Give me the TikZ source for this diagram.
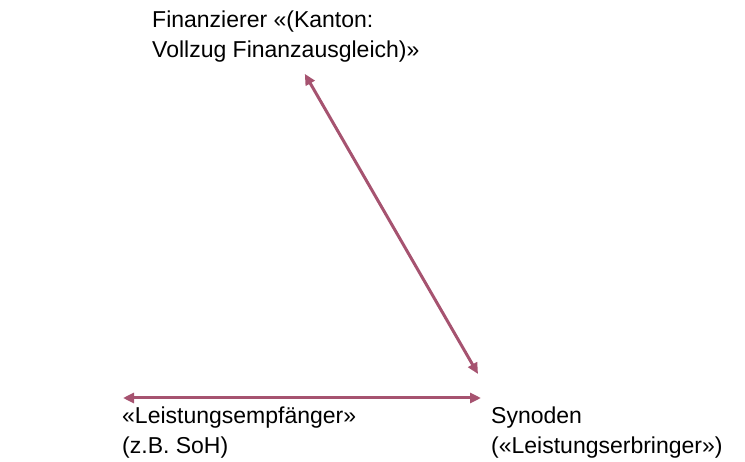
\documentclass[tikz,border=0pt]{standalone}
\usepackage{fontspec}
\setmainfont{Liberation Sans}
\usepackage{tikz}
\usetikzlibrary{arrows.meta}

\definecolor{rolle}{RGB}{166,83,112}

\begin{document}
\begin{tikzpicture}[x=1pt,y=-1pt,
  txt/.style={anchor=north west,align=left,inner sep=0pt,font=\fontsize{23}{30}\selectfont},
  pfeil/.style={rolle,line width=3pt,{Triangle[length=11pt,width=10pt]}-{Triangle[length=11pt,width=10pt]}}]
\useasboundingbox (0,0) rectangle (745,462);

\node[txt] (fin) at (152,11) {Finanzierer «(Kanton:\\Vollzug Finanzausgleich)»};
\node[txt] (emp) at (122,407) {«Leistungsempfänger»\\(z.B. SoH)};
\node[txt] (syn) at (491,407) {Synoden\\(«Leistungserbringer»)};

\draw[pfeil] ([xshift=19pt,yshift=-11pt]fin.south) -- ([xshift=-13pt,yshift=33pt]syn.north west);
\draw[pfeil] ([xshift=1pt,yshift=9pt]emp.north west) -- ([xshift=-10pt,yshift=9pt]syn.north west);

\end{tikzpicture}
\end{document}
